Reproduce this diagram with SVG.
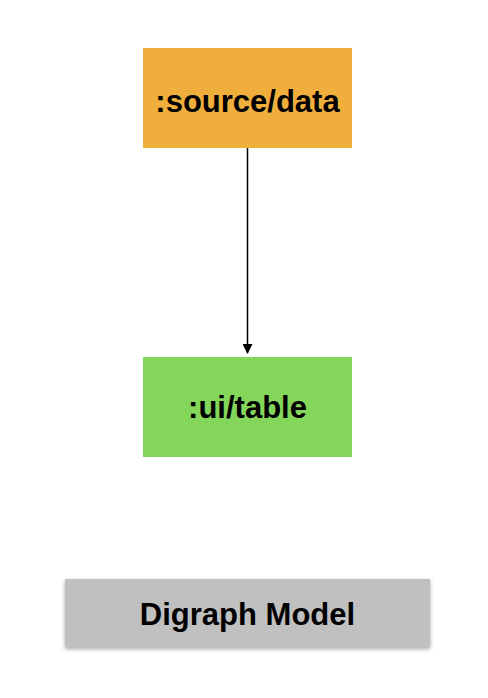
<svg xmlns="http://www.w3.org/2000/svg" width="488" height="698" viewBox="0 0 488 698">
<style>
text{font-family:"Liberation Sans",Arial,sans-serif;font-weight:bold;font-size:31px;fill:#000;text-anchor:middle}
.edge{stroke:#000;stroke-width:1.5;fill:none}
</style>
<defs>
<marker id="arrow" markerWidth="10" markerHeight="10" refX="9" refY="5" orient="auto" markerUnits="userSpaceOnUse">
<path d="M0,0 L10,5 L0,10 z" fill="#000"/>
</marker>
<filter id="shadow" x="-10%" y="-20%" width="120%" height="150%">
<feDropShadow dx="0" dy="2" stdDeviation="2" flood-color="#000" flood-opacity="0.35"/>
</filter>
</defs>
<rect width="488" height="698" fill="#fff"/>
<g id="connectors">
<line class="edge" x1="247.5" y1="148" x2="247.5" y2="353" marker-end="url(#arrow)"/>
</g>
<g id="source-data">
<rect x="143" y="48" width="209" height="100" fill="#F0AF3C"/>
<text x="247.5" y="112">:source/data</text>
</g>
<g id="ui-table">
<rect x="143" y="357" width="209" height="100" fill="#84D65A"/>
<text x="247.5" y="418">:ui/table</text>
</g>
<g id="digraph-model">
<rect x="65" y="579" width="365" height="68" fill="#C0C0C0" filter="url(#shadow)"/>
<text x="247.5" y="625">Digraph Model</text>
</g>
</svg>
